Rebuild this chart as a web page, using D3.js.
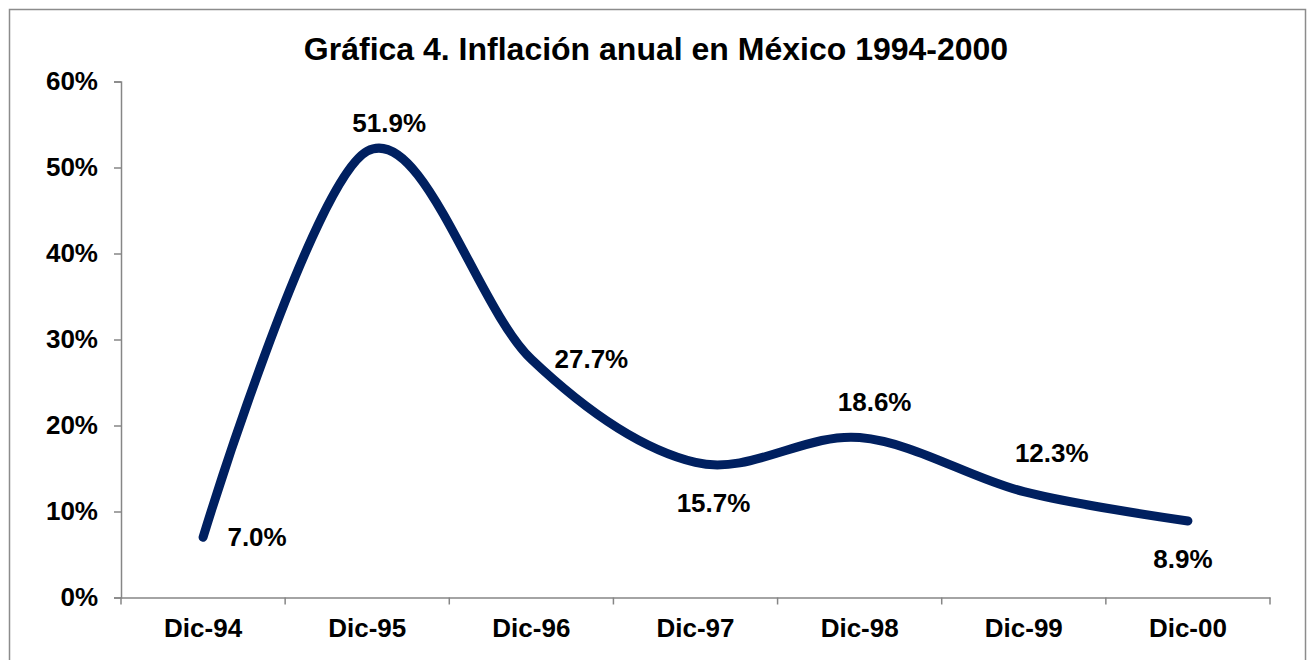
<!DOCTYPE html>
<html>
<head>
<meta charset="utf-8">
<script src="https://cdn.jsdelivr.net/npm/d3@7"></script>
<style>
body { margin: 0; background: #fff; }
text { font-family: Arial, "Liberation Sans", sans-serif; font-weight: bold; fill: #000; }
</style>
</head>
<body>
<svg id="chart" width="1310" height="660"></svg>
<script>
var categories = ['Dic-94','Dic-95','Dic-96','Dic-97','Dic-98','Dic-99','Dic-00']
var inflation = [7.0, 51.9, 27.7, 15.7, 18.6, 12.3, 8.9]
var y_ticks = [0,10,20,30,40,50,60]
// label offsets from each point (manual placement, as in the original)
var label_dx = [54, 22, 60, 18, 15, 28, -5]
var label_dy = [0, -28, 0, 40, -36, -39, 38]

var svg = d3.select('#chart')
var margin = {left: 121, right: 1270, top: 81.5, bottom: 597.5}

svg.append('rect')
	.attr('x',9.5)
	.attr('y',9.5)
	.attr('width',1296)
	.attr('height',700)
	.style('fill','none')
	.style('stroke','#8c8c8c')
	.style('stroke-width',1.5)

var x = d3.scaleBand()
	.domain(categories)
	.range([margin.left, margin.right])
var y = d3.scaleLinear()
	.domain([0,60])
	.range([margin.bottom, margin.top])

svg.append('text')
	.attr('x',656)
	.attr('y',60)
	.attr('text-anchor','middle')
	.style('font-size','32px')
	.text('Gráfica 4. Inflación anual en México 1994-2000')

var yAxis = svg.append('g')
	.attr('transform','translate('+margin.left+',0)')
	.call(d3.axisLeft(y).tickValues(y_ticks).tickSize(7).tickPadding(16).tickFormat(function(d){ return d+'%' }))
var xAxis = svg.append('g')
	.attr('transform','translate(0,'+margin.bottom+')')
	.call(d3.axisBottom(x).tickSize(0).tickPadding(21))
xAxis.selectAll('.tick-mark')
	.data(d3.range(categories.length+1))
	.enter()
	.append('line')
	.attr('x1',function(d){ return margin.left + d*x.step() })
	.attr('x2',function(d){ return margin.left + d*x.step() })
	.attr('y1',0)
	.attr('y2',7)
	.style('stroke','#868686')
	.style('stroke-width',1.5)

svg.selectAll('.domain')
	.style('stroke','#868686')
	.style('stroke-width',1.5)
yAxis.selectAll('.tick line')
	.style('stroke','#868686')
	.style('stroke-width',1.5)
svg.selectAll('.tick text')
	.style('font-size','26px')
	.style('font-family','Arial, "Liberation Sans", sans-serif')
	.style('font-weight','bold')
	.style('fill','#000')

var line = d3.line()
	.x(function(d,i){ return x(categories[i]) + x.bandwidth()/2 })
	.y(function(d){ return y(d) })
	.curve(d3.curveCardinal.tension(0))

svg.append('path')
	.datum(inflation)
	.attr('d',line)
	.style('fill','none')
	.style('stroke','#002060')
	.style('stroke-width',9)
	.style('stroke-linecap','round')
	.style('stroke-linejoin','round')

svg.selectAll('.label')
	.data(inflation)
	.enter()
	.append('text')
	.attr('class','label')
	.attr('x',function(d,i){ return x(categories[i]) + x.bandwidth()/2 + label_dx[i] })
	.attr('y',function(d,i){ return y(d) + label_dy[i] })
	.attr('dy','0.35em')
	.attr('text-anchor','middle')
	.style('font-size','26px')
	.text(function(d){ return d.toFixed(1)+'%' })
</script>
</body>
</html>
